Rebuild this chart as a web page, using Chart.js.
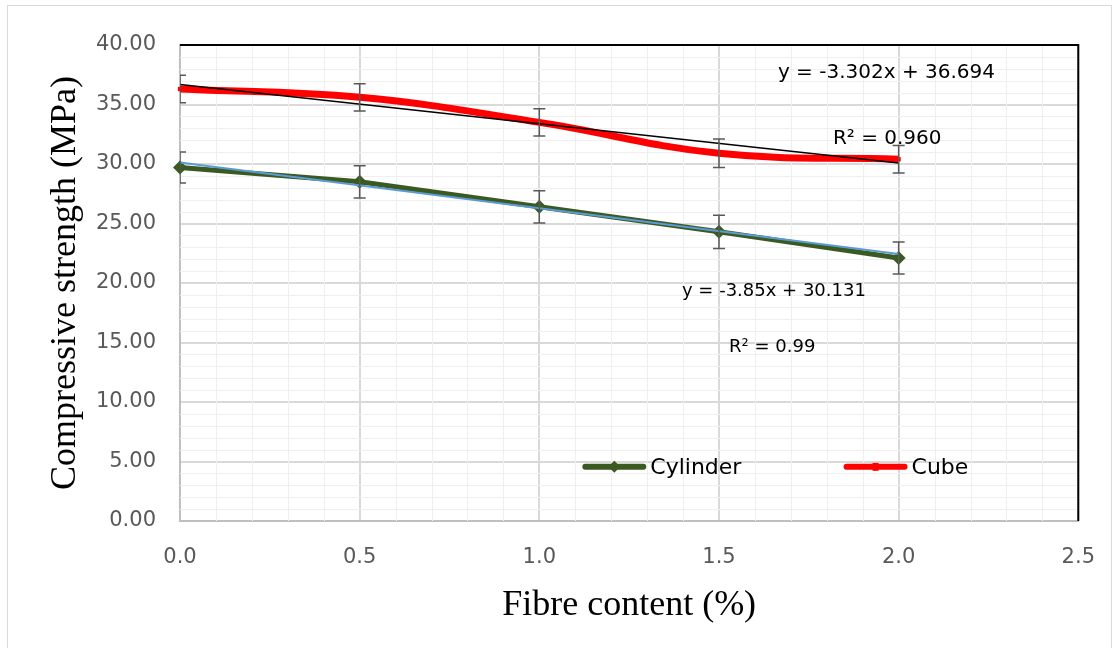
<!DOCTYPE html>
<html>
<head>
<meta charset="utf-8">
<script src="https://cdn.jsdelivr.net/npm/chart.js@4"></script>
<style>
  body { margin: 0; background: #fff; }
  canvas { display: block; }
</style>
</head>
<body>
<canvas id="chart" width="1119" height="648"></canvas>
<script>
'use strict'

// 섬유 함량 (%)
const fibreContent = [0, 0.5, 1.0, 1.5, 2.0];
// 실린더 / 큐브 압축강도 (MPa)
const cylinderStrength = [29.7, 28.5, 26.4, 24.3, 22.1];
const cubeStrength = [36.3, 35.6, 33.5, 30.9, 30.4];
// 오차 막대 (±)
const cylinderError = [1.3, 1.35, 1.35, 1.4, 1.35];
const cubeError = [1.15, 1.15, 1.15, 1.2, 1.15];
// 추세선 양 끝 (x = 0, 2)
const trendX = [0, 2];
const cubeTrend = [36.69, 30.09];
const cylinderTrend = [30.13, 22.43];
// 축 눈금
const xTicks = [0, 0.5, 1.0, 1.5, 2.0, 2.5];
const yTicks = [0, 5, 10, 15, 20, 25, 30, 35, 40];
// 범례 / 식
const seriesNames = ['Cylinder', 'Cube'];
const cubeEquation = 'y = -3.302x + 36.694';
const cubeR2 = 'R² = 0.960';
const cylinderEquation = 'y = -3.85x + 30.131';
const cylinderR2 = 'R² = 0.99';

const GREEN = '#3a5a22';
const RED = '#ff0000';

function toPoints(xs, ys){
	return xs.map((x, i) => ({ x: x, y: ys[i] }));
}

//보조 눈금선 + 상단/우측 테두리
const minorGrid = {
	id: 'minorGrid',
	beforeDatasetsDraw(chart){
		const { ctx, chartArea: a, scales: { x, y } } = chart;
		ctx.save();
		ctx.strokeStyle = '#efefef';
		ctx.lineWidth = 1;
		for(let i = 1; i < 25; i++){
			if(i % 5 == 0) continue;
			const px = Math.round(x.getPixelForValue(i / 10)) + 0.5;
			ctx.beginPath(); ctx.moveTo(px, a.top); ctx.lineTo(px, a.bottom); ctx.stroke();
		}
		for(let i = 1; i < 40; i++){
			if(i % 5 == 0) continue;
			const py = Math.round(y.getPixelForValue(i)) + 0.5;
			ctx.beginPath(); ctx.moveTo(a.left, py); ctx.lineTo(a.right, py); ctx.stroke();
		}
		ctx.strokeStyle = '#000';
		ctx.lineWidth = 2;
		ctx.beginPath();
		ctx.moveTo(a.left, a.top); ctx.lineTo(a.right, a.top); ctx.lineTo(a.right, a.bottom);
		ctx.stroke();
		ctx.restore();
	}
};

//오차 막대, 범례, 식
const extras = {
	id: 'extras',
	beforeDraw(chart){
		const ctx = chart.ctx;
		ctx.save();
		ctx.strokeStyle = '#d9d9d9';
		ctx.lineWidth = 1;
		ctx.strokeRect(7.5, 5.5, 1104, 700);
		ctx.restore();
	},
	afterDatasetsDraw(chart){
		const { ctx, chartArea: a, scales: { x, y } } = chart;
		ctx.save();
		ctx.beginPath();
		ctx.rect(a.left, a.top - 10, a.right - a.left, a.bottom - a.top + 10);
		ctx.clip();
		ctx.strokeStyle = '#595959';
		ctx.lineWidth = 1.5;
		const bars = [[cubeStrength, cubeError], [cylinderStrength, cylinderError]];
		bars.forEach(([vals, errs]) => {
			fibreContent.forEach((fx, i) => {
				const px = x.getPixelForValue(fx);
				const top = y.getPixelForValue(vals[i] + errs[i]);
				const bot = y.getPixelForValue(vals[i] - errs[i]);
				ctx.beginPath();
				ctx.moveTo(px, top); ctx.lineTo(px, bot);
				ctx.moveTo(px - 6, top); ctx.lineTo(px + 6, top);
				ctx.moveTo(px - 6, bot); ctx.lineTo(px + 6, bot);
				ctx.stroke();
			});
		});
		ctx.restore();
	},
	afterDraw(chart){
		const { ctx, scales: { x, y } } = chart;
		ctx.save();
		ctx.textBaseline = 'middle';
		ctx.fillStyle = '#000';

		//식 표시
		ctx.font = '20px "DejaVu Sans"';
		ctx.fillText(cubeEquation, x.getPixelForValue(1.664), y.getPixelForValue(37.65));
		ctx.fillText(cubeR2, x.getPixelForValue(1.817), y.getPixelForValue(32.1));
		ctx.font = '18px "DejaVu Sans"';
		ctx.fillText(cylinderEquation, x.getPixelForValue(1.397), y.getPixelForValue(19.3));
		ctx.fillText(cylinderR2, x.getPixelForValue(1.528), y.getPixelForValue(14.6));

		//범례
		const legendY = y.getPixelForValue(4.55);
		const items = [
			{ name: seriesNames[0], color: GREEN, x0: x.getPixelForValue(1.128), diamond: true },
			{ name: seriesNames[1], color: RED, x0: x.getPixelForValue(1.855), diamond: false }
		];
		ctx.font = '22px "DejaVu Sans"';
		items.forEach((it) => {
			ctx.strokeStyle = it.color;
			ctx.fillStyle = it.color;
			ctx.lineWidth = 6;
			ctx.lineCap = 'round';
			ctx.beginPath();
			ctx.moveTo(it.x0, legendY); ctx.lineTo(it.x0 + 58, legendY);
			ctx.stroke();
			const cx = it.x0 + 29;
			ctx.beginPath();
			if(it.diamond){
				ctx.moveTo(cx, legendY - 6); ctx.lineTo(cx + 6, legendY);
				ctx.lineTo(cx, legendY + 6); ctx.lineTo(cx - 6, legendY);
			}else{
				ctx.rect(cx - 3, legendY - 4, 6, 8);
			}
			ctx.fill();
			ctx.fillStyle = '#000';
			ctx.fillText(it.name, it.x0 + 65, legendY + 1);
		});
		ctx.restore();
	}
};

new Chart(document.getElementById('chart'), {
	type: 'scatter',
	data: {
		datasets: [
			{
				label: 'Cube trend',
				data: toPoints(trendX, cubeTrend),
				showLine: true,
				borderColor: '#000',
				borderWidth: 1.5,
				pointRadius: 0,
				order: 0
			},
			{
				label: 'Cylinder trend',
				data: toPoints(trendX, cylinderTrend),
				showLine: true,
				borderColor: '#5b9bd5',
				borderWidth: 2,
				pointRadius: 0,
				order: 0
			},
			{
				label: seriesNames[0],
				data: toPoints(fibreContent, cylinderStrength),
				showLine: true,
				borderColor: GREEN,
				backgroundColor: GREEN,
				borderWidth: 5,
				pointStyle: 'rectRot',
				pointRadius: 7,
				pointBorderWidth: 0,
				order: 1
			},
			{
				label: seriesNames[1],
				data: toPoints(fibreContent, cubeStrength),
				showLine: true,
				borderColor: RED,
				backgroundColor: RED,
				borderWidth: 7,
				tension: 0.4,
				pointStyle: 'rect',
				pointRadius: 3,
				pointBorderWidth: 0,
				order: 1
			}
		]
	},
	options: {
		responsive: false,
		animation: false,
		clip: false,
		layout: { padding: { top: 45, right: 39, left: 0, bottom: 0 } },
		plugins: {
			legend: { display: false },
			tooltip: { enabled: false }
		},
		scales: {
			x: {
				type: 'linear',
				min: 0,
				max: 2.5,
				afterBuildTicks: (s) => { s.ticks = xTicks.map((v) => ({ value: v })); },
				afterFit: (s) => { s.height = 127; },
				grid: { color: '#d9d9d9', lineWidth: 2, drawTicks: false },
				border: { color: '#bfbfbf', width: 2 },
				ticks: {
					padding: 24,
					color: '#595959',
					font: { family: 'DejaVu Sans', size: 21 },
					callback: (v) => Number(v).toFixed(1)
				},
				title: {
					display: true,
					text: 'Fibre content (%)',
					color: '#000',
					font: { family: 'Liberation Serif', size: 36 },
					padding: { bottom: 21 }
				}
			},
			y: {
				type: 'linear',
				min: 0,
				max: 40,
				afterBuildTicks: (s) => { s.ticks = yTicks.map((v) => ({ value: v })); },
				afterFit: (s) => { s.width = 180; },
				grid: { color: '#d9d9d9', lineWidth: 2, drawTicks: false },
				border: { color: '#bfbfbf', width: 2 },
				ticks: {
					padding: 24,
					color: '#595959',
					font: { family: 'DejaVu Sans', size: 21 },
					callback: (v) => Number(v).toFixed(2)
				},
				title: {
					display: true,
					text: 'Compressive strength (MPa)',
					color: '#000',
					font: { family: 'Liberation Serif', size: 36 },
					padding: { top: 44 }
				}
			}
		}
	},
	plugins: [minorGrid, extras]
});
</script>
</body>
</html>
